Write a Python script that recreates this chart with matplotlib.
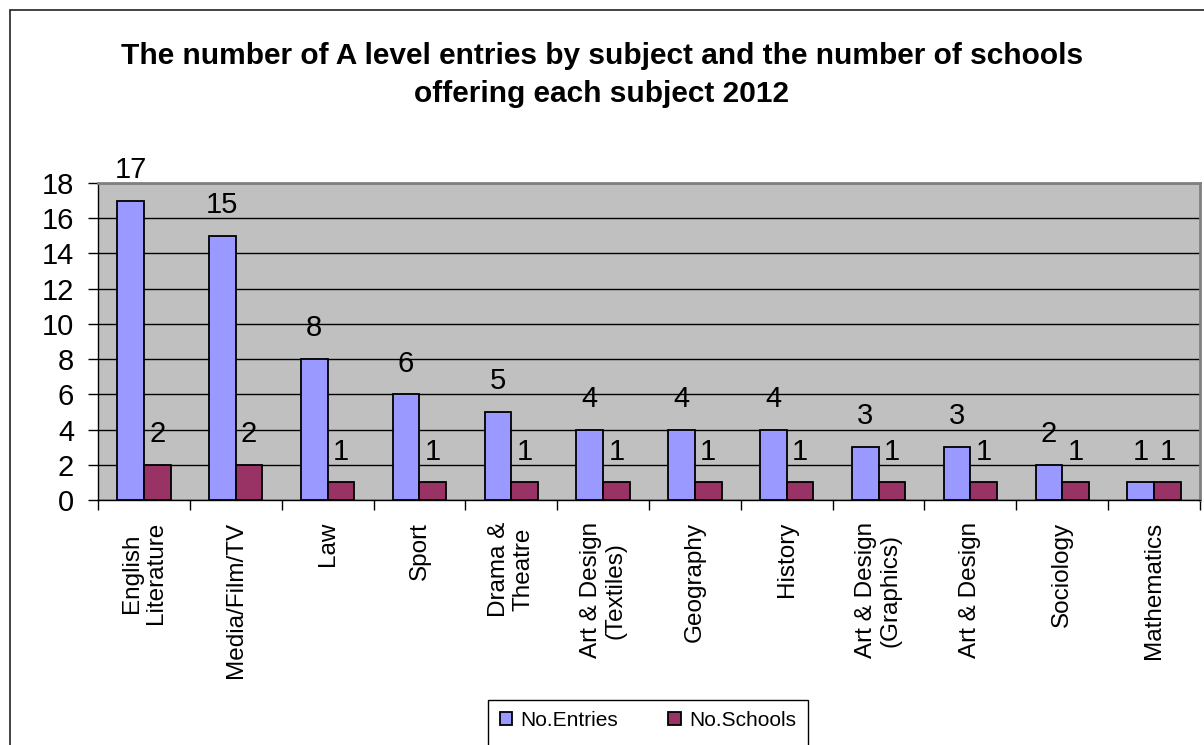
import matplotlib
matplotlib.use("Agg")
import matplotlib.pyplot as plt
import numpy as np
from matplotlib.patches import Rectangle

categories = ["English\nLiterature", "Media/Film/TV", "Law", "Sport", "Drama &\nTheatre",
              "Art & Design\n(Textiles)", "Geography", "History", "Art & Design\n(Graphics)",
              "Art & Design", "Sociology", "Mathematics"]
entries = [17, 15, 8, 6, 5, 4, 4, 4, 3, 3, 2, 1]
schools = [2, 2, 1, 1, 1, 1, 1, 1, 1, 1, 1, 1]
series_names = ["No.Entries", "No.Schools"]
yticks = [0, 2, 4, 6, 8, 10, 12, 14, 16, 18]

plt.rcParams['font.family'] = ['Liberation Sans', 'DejaVu Sans']

W, H = 1204, 745
fig = plt.figure(figsize=(W/100, H/100), dpi=100)
ax = fig.add_axes([98/W, 1-500/H, 1102/W, 317/H])

# figure border (left and top visible)
fig.add_artist(Rectangle((10/W, -0.1), 1.2, 1 - 10/H + 0.1, transform=fig.transFigure,
                         fill=False, edgecolor='#222222', linewidth=1.2))

x = np.arange(len(categories))
w = 0.29
b1 = ax.bar(x - w/2, entries, w, color='#9999FF', edgecolor='black', linewidth=1.3,
            label=series_names[0], zorder=3)
b2 = ax.bar(x + w/2, schools, w, color='#993366', edgecolor='black', linewidth=1.3,
            label=series_names[1], zorder=3)
ax.bar_label(b1, padding=12, fontsize=21, clip_on=False)
ax.bar_label(b2, padding=12, fontsize=21, clip_on=False)

ax.set_facecolor('#C0C0C0')
ax.set_xlim(-0.5, len(categories) - 0.5)
ax.set_ylim(0, 18)
ax.set_yticks(yticks)
ax.tick_params(axis='y', labelsize=21, length=7.2, width=1, direction='out', pad=10)
ax.yaxis.grid(True, color='black', linewidth=1, zorder=1)
ax.set_axisbelow(True)

ax.set_xticks(np.arange(len(categories) + 1) - 0.5)
ax.set_xticklabels([])
ax.tick_params(axis='x', length=7.2, width=1, direction='out')
for i, c in enumerate(categories):
    ax.text(i, -1.25, c, rotation=90, ha='center', va='top', multialignment='center',
            fontsize=17.5, linespacing=1.15, transform=ax.transData)

for s in ['top', 'right']:
    ax.spines[s].set_color('#808080')
    ax.spines[s].set_linewidth(2)
for s in ['left', 'bottom']:
    ax.spines[s].set_color('black')
    ax.spines[s].set_linewidth(1)

fig.text(602/W, 1 - 75/H, "The number of A level entries by subject and the number of schools\noffering each subject 2012",
         ha='center', va='center', fontsize=21.5, fontweight='bold', linespacing=1.5)

# legend box
fig.add_artist(Rectangle((488/W, -0.1), (808-488)/W, 0.1 + 1 - 700/H, transform=fig.transFigure,
                         fill=False, edgecolor='black', linewidth=1))
leg = fig.legend(handles=[b1, b2], labels=series_names, loc='center',
                 bbox_to_anchor=(648/W, 1 - 720/H), ncol=2, fontsize=15,
                 frameon=False, handlelength=0.6, handleheight=0.6,
                 columnspacing=2.4, handletextpad=0.4)

fig.savefig("out.png", dpi=100)
